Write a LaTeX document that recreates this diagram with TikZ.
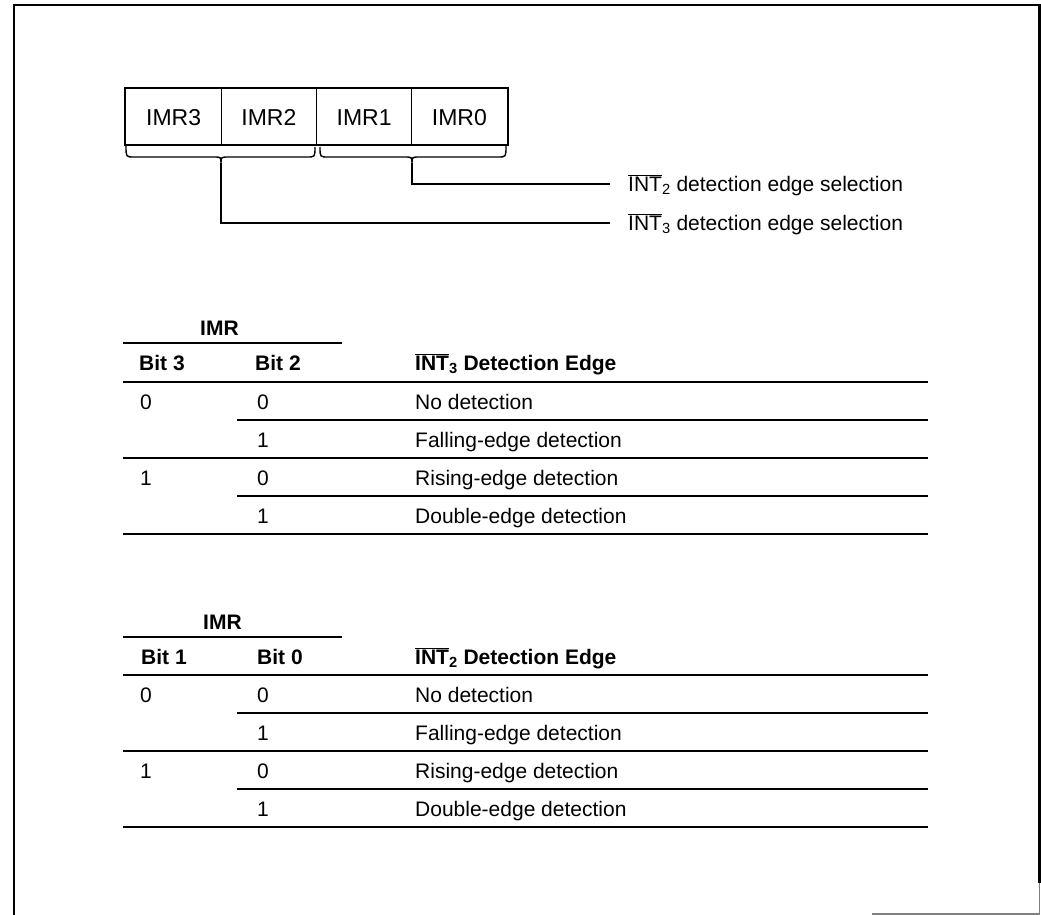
\documentclass[tikz,border=0pt]{standalone}
\usepackage{fontspec}
\setmainfont{Liberation Sans}
\newcommand\ovl[1]{$\overline{\mbox{#1}}$}
\begin{document}
\begin{tikzpicture}[x=1pt,y=-1pt,
  txt/.style={inner sep=0pt, anchor=west, text height=15pt, text depth=0pt, font=\fontsize{21}{24}\selectfont},
  hdr/.style={txt, font=\fontsize{21}{24}\selectfont\bfseries},
  regcell/.style={draw, line width=1pt, minimum width=95.25pt, minimum height=56pt, inner sep=0pt, text height=16.5pt, text depth=0pt, font=\fontsize{23}{26}\selectfont},
  rulethin/.style={line width=1.4pt},
  rulemid/.style={line width=2pt},
  rulethick/.style={line width=2.8pt},
  brace/.style={line width=1.4pt}]
\useasboundingbox (0,0) rectangle (1041,915);
% frame
\draw[line width=2.6pt] (14,915) -- (14,5) -- (1039.5,5) -- (1039.5,883);
\draw[gray, line width=1.5pt] (1039.5,883) -- (1039.5,914) -- (872,914);
% register
\node[regcell] (r3) at (173.6,117) {IMR3};
\node[regcell] (r2) at (268.9,117) {IMR2};
\node[regcell] (r1) at (364.1,117) {IMR1};
\node[regcell] (r0) at (459.4,117) {IMR0};
\draw[line width=2pt] (r3.north west) rectangle (r0.south east);
% braces
\coordinate (b3tip) at (221,163);
\coordinate (b1tip) at (412,163);
\draw[brace] (126,146) .. controls (126,157) .. (134,157) -- (213,157) .. controls (221,157) .. (b3tip) .. controls (221,157) .. (229,157) -- (307,157) .. controls (315,157) .. (315,147);
\draw[brace] (320,147) .. controls (320,157) .. (328,157) -- (404,157) .. controls (412,157) .. (b1tip) .. controls (412,157) .. (420,157) -- (498,157) .. controls (506,157) .. (506,146);
% labels
\node[txt] (lab2) at (628,184) {\ovl{INT}\textsubscript{2} detection edge selection};
\node[txt] (lab3) at (628,223) {\ovl{INT}\textsubscript{3} detection edge selection};
\draw[rulethin] (b1tip) |- ([xshift=-18pt]lab2.west);
\draw[rulethin] (b3tip) |- ([xshift=-18pt]lab3.west);
% table 1
\node[hdr] (imrA) at (200,328) {IMR};
\draw[rulemid] (123,343) -- (342,343);
\node[hdr] (hA1) at (139,363) {Bit 3};
\node[hdr] (hA2) at (255,363) {Bit 2};
\node[hdr] (hA3) at (415,363) {\ovl{INT}\textsubscript{3} Detection Edge};
\draw[rulethick] (123,382) -- (928,382);
\node[txt] (a11) at (140,402) {0};
\node[txt] (a12) at (257,402) {0};
\node[txt] (a13) at (415,402) {No detection};
\draw[rulethin] (237,420) -- (928,420);
\node[txt] (a22) at (257,440) {1};
\node[txt] (a23) at (415,440) {Falling-edge detection};
\draw[rulethin] (123,458) -- (928,458);
\node[txt] (a31) at (140,478) {1};
\node[txt] (a32) at (257,478) {0};
\node[txt] (a33) at (415,478) {Rising-edge detection};
\draw[rulethin] (237,496) -- (928,496);
\node[txt] (a42) at (257,516) {1};
\node[txt] (a43) at (415,516) {Double-edge detection};
\draw[rulethick] (123,534) -- (928,534);
% table 2
\node[hdr] (imrB) at (203,622) {IMR};
\draw[rulemid] (123,637) -- (342,637);
\node[hdr] (hB1) at (141,657) {Bit 1};
\node[hdr] (hB2) at (257,657) {Bit 0};
\node[hdr] (hB3) at (415,657) {\ovl{INT}\textsubscript{2} Detection Edge};
\draw[rulethick] (123,675) -- (928,675);
\node[txt] (c11) at (140,695) {0};
\node[txt] (c12) at (257,695) {0};
\node[txt] (c13) at (415,695) {No detection};
\draw[rulethin] (237,713) -- (928,713);
\node[txt] (c22) at (257,733) {1};
\node[txt] (c23) at (415,733) {Falling-edge detection};
\draw[rulethin] (123,751) -- (928,751);
\node[txt] (c31) at (140,771) {1};
\node[txt] (c32) at (257,771) {0};
\node[txt] (c33) at (415,771) {Rising-edge detection};
\draw[rulethin] (237,789) -- (928,789);
\node[txt] (c42) at (257,809) {1};
\node[txt] (c43) at (415,809) {Double-edge detection};
\draw[rulethick] (123,827) -- (928,827);
\end{tikzpicture}
\end{document}
